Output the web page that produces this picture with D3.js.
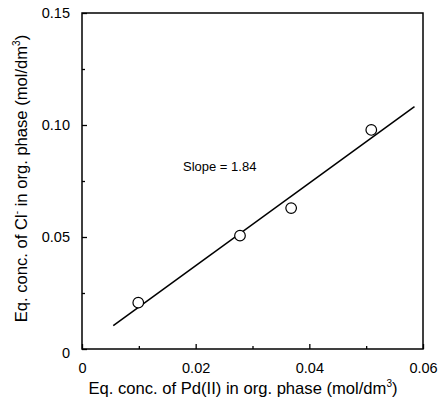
<!DOCTYPE html>
<html><head><meta charset="utf-8">
<script src="https://cdn.jsdelivr.net/npm/d3@7"></script>
<style>body{margin:0;background:#fff}svg{display:block}text{font-family:"Liberation Sans",Arial,Helvetica,sans-serif;fill:#000}</style>
</head><body>
<script>
const xData = [0.0099, 0.0278, 0.0368, 0.0509];
const yData = [0.0207, 0.0506, 0.0629, 0.0978];
const fitX = [0.0055, 0.0585];
const fitY = [0.0104, 0.1082];
const xTicks = [0, 0.02, 0.04, 0.06];
const xTickLabels = ["0", "0.02", "0.04", "0.06"];
const yTicks = [0, 0.05, 0.10, 0.15];
const yTickLabels = ["0", "0.05", "0.10", "0.15"];
const xMinor = [0.01, 0.03, 0.05];
const yMinor = [0.025, 0.075, 0.125];

const W = 438, H = 401;
const m = {l: 82, r: 15, t: 13, b: 52};
const svg = d3.select("body").append("svg").attr("width", W).attr("height", H);
const x = d3.scaleLinear().domain([0, 0.06]).range([m.l, W - m.r]);
const y = d3.scaleLinear().domain([0, 0.15]).range([H - m.b, m.t]);
const FS = 14.5;

// frame
svg.append("rect").attr("x", x(0)).attr("y", y(0.15)).attr("width", x(0.06) - x(0)).attr("height", y(0) - y(0.15))
  .attr("fill", "none").attr("stroke", "#000").attr("stroke-width", 1.5);

// x axis (ticks inward)
const gx = svg.append("g").attr("transform", `translate(0,${y(0)})`)
  .call(d3.axisBottom(x).tickValues(xTicks).tickSize(-5).tickFormat((d, i) => xTickLabels[i]).tickPadding(14));
gx.select(".domain").remove();
gx.selectAll("line").attr("stroke-width", 1.3);
gx.selectAll("text").attr("font-size", FS).attr("font-family", "Liberation Sans, Arial, sans-serif");
const gxm = svg.append("g").attr("transform", `translate(0,${y(0)})`)
  .call(d3.axisBottom(x).tickValues(xMinor).tickSize(-3).tickFormat(""));
gxm.select(".domain").remove();
gxm.selectAll("line").attr("stroke-width", 1.3);

// y axis
const gy = svg.append("g").attr("transform", `translate(${x(0)},0)`)
  .call(d3.axisLeft(y).tickValues(yTicks).tickSize(-5).tickFormat((d, i) => yTickLabels[i]).tickPadding(12));
gy.select(".domain").remove();
gy.selectAll("line").attr("stroke-width", 1.3);
gy.selectAll("text").attr("font-size", FS).attr("font-family", "Liberation Sans, Arial, sans-serif");
gy.selectAll(".tick").filter(d => d === 0).select("text").attr("dy", "0.57em");
const gym = svg.append("g").attr("transform", `translate(${x(0)},0)`)
  .call(d3.axisLeft(y).tickValues(yMinor).tickSize(-3).tickFormat(""));
gym.select(".domain").remove();
gym.selectAll("line").attr("stroke-width", 1.3);

// fit line
const line = d3.line().x(d => x(d[0])).y(d => y(d[1]));
svg.append("path").datum(fitX.map((v, i) => [v, fitY[i]])).attr("d", line)
  .attr("fill", "none").attr("stroke", "#000").attr("stroke-width", 1.5);

// points
svg.selectAll("circle.pt").data(xData.map((v, i) => [v, yData[i]])).enter().append("circle")
  .attr("class", "pt").attr("cx", d => x(d[0])).attr("cy", d => y(d[1])).attr("r", 5.3)
  .attr("fill", "#fff").attr("stroke", "#000").attr("stroke-width", 1.2);

// annotation
svg.append("text").attr("x", 183).attr("y", 171).attr("font-size", 13).text("Slope = 1.84");

// x title
const xt = svg.append("text").attr("x", 243).attr("y", 394).attr("text-anchor", "middle").attr("font-size", 16.6);
xt.append("tspan").text("Eq. conc. of Pd(II) in org. phase (mol/dm");
xt.append("tspan").attr("font-size", 10).attr("dy", -7).text("3");
xt.append("tspan").attr("dy", 7).text(")");

// y title
const yt = svg.append("text").attr("transform", `translate(27,178.5) rotate(-90)`).attr("text-anchor", "middle").attr("font-size", 16.6);
yt.append("tspan").text("Eq. conc. of Cl");
yt.append("tspan").attr("font-size", 10).attr("dy", -7).text("-");
yt.append("tspan").attr("dy", 7).text(" in org. phase (mol/dm");
yt.append("tspan").attr("font-size", 10).attr("dy", -7).text("3");
yt.append("tspan").attr("dy", 7).text(")");
</script>
</body></html>
